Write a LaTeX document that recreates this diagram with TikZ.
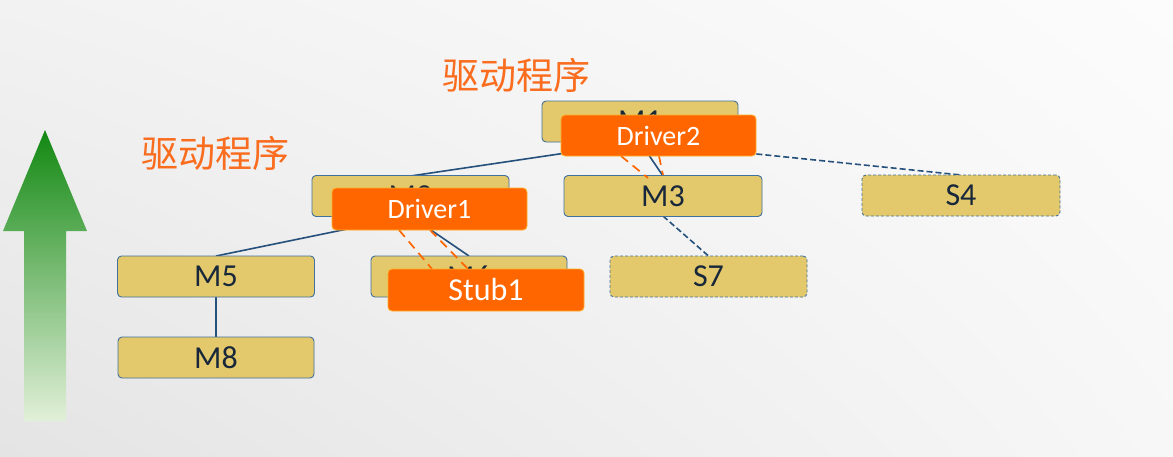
\documentclass[tikz,border=0pt]{standalone}
\usepackage{fontspec}
\usetikzlibrary{shadings}
\setmainfont{Carlito}
\newfontfamily\cjk{Noto Sans CJK SC}
\definecolor{boxfill}{RGB}{227,200,108}
\definecolor{boxline}{RGB}{65,113,156}
\definecolor{linkblue}{RGB}{38,80,124}
\definecolor{txtdark}{RGB}{24,40,58}
\definecolor{drvfill}{RGB}{255,102,0}
\definecolor{drvline}{RGB}{255,176,40}
\definecolor{cjkorange}{RGB}{250,108,30}
\definecolor{arrowtop}{RGB}{18,136,18}
\definecolor{arrowbot}{RGB}{226,240,217}
\definecolor{bgul}{RGB}{242,242,242}
\definecolor{bgur}{RGB}{252,252,252}
\definecolor{bgll}{RGB}{228,228,228}
\definecolor{bglr}{RGB}{247,247,247}
\tikzset{
  modbox/.style={draw=boxline, line width=0.9pt, fill=boxfill, rounded corners=4pt,
    minimum height=41pt, inner sep=0pt, text=txtdark, font=\fontsize{32}{34}\selectfont},
  stubbox/.style={modbox, dashed, dash pattern=on 3pt off 2pt},
  drvbox/.style={draw=drvline, line width=0.8pt, fill=drvfill, rounded corners=4pt,
    minimum width=195pt, minimum height=41pt, inner sep=0pt, text=white,
    font=\fontsize{28}{30}\selectfont},
  link/.style={draw=linkblue, line width=1.6pt},
  dlink/.style={link, dash pattern=on 6pt off 3pt},
  olink/.style={draw=drvfill, line width=1.7pt, dash pattern=on 9pt off 6pt},
  cjklabel/.style={text=cjkorange, font=\cjk\fontsize{37}{40}\selectfont, inner sep=0pt}
}
\begin{document}
\begin{tikzpicture}[x=1pt,y=-1pt]
\useasboundingbox (0,0) rectangle (1173,456);
% background
\shade[upper left=bgul, upper right=bgur, lower left=bgll, lower right=bglr]
  (0,0) rectangle (1173,456);
% green arrow
\shade[top color=arrowtop, bottom color=arrowbot]
  (24,421) -- (24,231) -- (3,231) -- (45,130) -- (87,231) -- (66,231) -- (66,421) -- cycle;
% labels
\node[cjklabel] (lab1) at (516,75) {驱动程序};
\node[cjklabel] (lab2) at (215,153) {驱动程序};
% module box centres
\path
  (640,121.5) coordinate (pM1)
  (410.5,196) coordinate (pM2)
  (663,196) coordinate (pM3)
  (961,195.5) coordinate (pS4)
  (216,276.5) coordinate (pM5)
  (469,276.5) coordinate (pM6)
  (708.5,276.5) coordinate (pS7)
  (216,357.5) coordinate (pM8);
% tree connectors, from box edge to box edge
\coordinate (M1s) at (640,142);
\coordinate (M2n) at (410.5,176);
\coordinate (M3n) at (663,176);
\coordinate (S4n) at (961,175);
\coordinate (M2s) at (410.5,216);
\coordinate (M5n) at (216,256);
\coordinate (M6n) at (469,256);
\coordinate (M5s) at (216,297);
\coordinate (M8n) at (216,337);
\coordinate (M3s) at (663,216);
\coordinate (S7n) at (708.5,256);
\draw[link] (M1s) -- (M2n);
\draw[link] (M1s) -- (M3n);
\draw[dlink] (M1s) -- (S4n);
\draw[link] (M2s) -- (M5n);
\draw[link] (M2s) -- (M6n);
\draw[link] (M5s) -- (M8n);
\draw[dlink] (M3s) -- (S7n);
% boxes
\node[modbox, minimum width=196pt] (M1) at (pM1) {M1};
\node[modbox, minimum width=197pt] (M2) at (pM2) {M2};
\node[modbox, minimum width=198pt] (M3) at (pM3) {M3};
\node[stubbox, minimum width=198pt] (S4) at (pS4) {S4};
\node[modbox, minimum width=197pt] (M5) at (pM5) {M5};
\node[modbox, minimum width=196pt] (M6) at (pM6) {M6};
\node[stubbox, minimum width=197pt] (S7) at (pS7) {S7};
\node[modbox, minimum width=196pt] (M8) at (pM8) {M8};
% driver / stub dashed links
\coordinate (d2a) at (621,156);
\coordinate (d2b) at (659,156);
\coordinate (m3a) at (648,178);
\coordinate (m3b) at (663,175);
\coordinate (d1a) at (399,230);
\coordinate (d1b) at (430,230);
\coordinate (s1a) at (432,269);
\coordinate (s1b) at (468,269);
\draw[olink] (d2a) -- (m3a);
\draw[olink] (d2b) -- (m3b);
\draw[olink] (d1a) -- (s1a);
\draw[olink] (d1b) -- (s1b);
% driver / stub boxes
\node[drvbox] (D2) at (658.5,135.5) {Driver2};
\node[drvbox, minimum height=42pt] (D1) at (429.5,209) {Driver1};
\node[drvbox, minimum width=196pt, minimum height=42pt, font=\fontsize{32}{34}\selectfont] (ST1) at (486,290) {Stub1};
\end{tikzpicture}
\end{document}
